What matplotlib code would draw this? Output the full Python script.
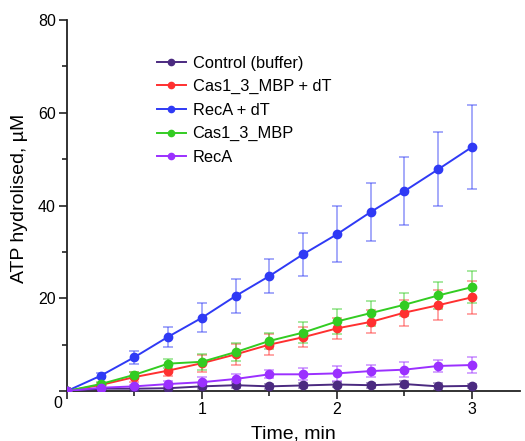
import matplotlib
matplotlib.use("Agg")
import matplotlib.pyplot as plt
import numpy as np

plt.rcParams['font.family'] = ['Liberation Sans', 'DejaVu Sans']

time = [0, 0.25, 0.5, 0.75, 1.0, 1.25, 1.5, 1.75, 2.0, 2.25, 2.5, 2.75, 3.0]

control = [0, 0.5, 0.5, 0.6, 1.0, 1.25, 1.0, 1.2, 1.4, 1.25, 1.5, 1.0, 1.1]
control_err = [0, 0.3, 0.4, 0.4, 0.5, 0.6, 0.5, 0.6, 0.6, 0.5, 0.6, 0.7, 0.5]

cas_dt = [0, 1.3, 3.0, 4.4, 6.0, 7.9, 10.0, 11.6, 13.5, 14.9, 16.9, 18.5, 20.2]
cas_dt_err = [0, 0.5, 1.0, 1.1, 1.8, 2.2, 2.3, 2.2, 2.2, 2.5, 2.8, 3.2, 3.5]

reca_dt = [0, 3.3, 7.3, 11.7, 15.8, 20.5, 24.8, 29.5, 33.8, 38.6, 43.1, 47.8, 52.6]
reca_dt_err = [0, 0.5, 1.4, 2.2, 3.1, 3.7, 3.6, 4.6, 6.0, 6.3, 7.3, 8.0, 9.0]

cas = [0, 1.5, 3.5, 5.9, 6.3, 8.4, 10.8, 12.6, 15.0, 16.8, 18.6, 20.6, 22.4]
cas_err = [0, 0.4, 0.7, 0.9, 1.7, 1.9, 1.7, 2.3, 2.7, 2.7, 2.5, 3.0, 3.4]

reca = [0, 0.7, 1.0, 1.5, 1.9, 2.6, 3.6, 3.6, 3.8, 4.3, 4.6, 5.4, 5.6]
reca_err = [0, 0.3, 0.4, 0.7, 1.1, 1.1, 0.9, 1.3, 1.6, 1.2, 1.6, 1.2, 1.7]

labels = ['Control (buffer)', 'Cas1_3_MBP + dT', 'RecA + dT', 'Cas1_3_MBP', 'RecA']
series = [control, cas_dt, reca_dt, cas, reca]
errors = [control_err, cas_dt_err, reca_dt_err, cas_err, reca_err]
colors = ['#4B2A80', '#FF3030', '#2F3AF5', '#33CC22', '#9B30FF']

fig = plt.figure(figsize=(5.25, 4.41), dpi=100)
ax = fig.add_axes([67/525, 50/441, 453/525, 371/441])

for y, e, c, lab in zip(series, errors, colors, labels):
    ax.errorbar(time, y, yerr=e, fmt='none', ecolor=c, alpha=0.5,
                elinewidth=1.2, capsize=3.5, capthick=1.2, zorder=2)
    ax.plot(time, y, '-o', color=c, lw=1.4, markersize=6, label=lab, zorder=3)

ax.set_xlim(0, 3.356)
ax.set_ylim(0, 80)
ax.spines['top'].set_visible(False)
ax.spines['right'].set_visible(False)
for s in ['left', 'bottom']:
    ax.spines[s].set_linewidth(1.3)
    ax.spines[s].set_color('#222222')

ax.set_xticks([0, 1, 2, 3])
ax.set_xticklabels(['', '1', '2', '3'])
ax.set_xticks([0.5, 1.5, 2.5], minor=True)
ax.set_yticks([0, 20, 40, 60, 80])
ax.set_yticklabels(['', '20', '40', '60', '80'])
ax.set_yticks([10, 30, 50, 70], minor=True)
ax.tick_params(axis='both', which='major', length=6, width=1.2, labelsize=11.5, color='#222222')
ax.tick_params(axis='both', which='minor', length=3.5, width=1.2, color='#222222')
ax.tick_params(axis='x', pad=2)
ax.tick_params(axis='y', pad=2)

fig.text(58/525, 1 - 403/441, '0', ha='center', va='center', fontsize=11.5)

ax.set_ylabel('ATP hydrolised, µM', fontsize=14)
ax.yaxis.set_label_coords(-39/453, 193/371)
ax.set_xlabel('Time, min', fontsize=14, labelpad=6)

leg = ax.legend(loc='upper left', bbox_to_anchor=(150/525, 1 - 49/441),
                bbox_transform=fig.transFigure, frameon=False, fontsize=11.8,
                handlelength=1.8, handletextpad=0.4, labelspacing=0.52,
                borderaxespad=0)
for h in leg.legend_handles:
    h.set_markersize(4.5)

fig.savefig('out.png', dpi=100)
